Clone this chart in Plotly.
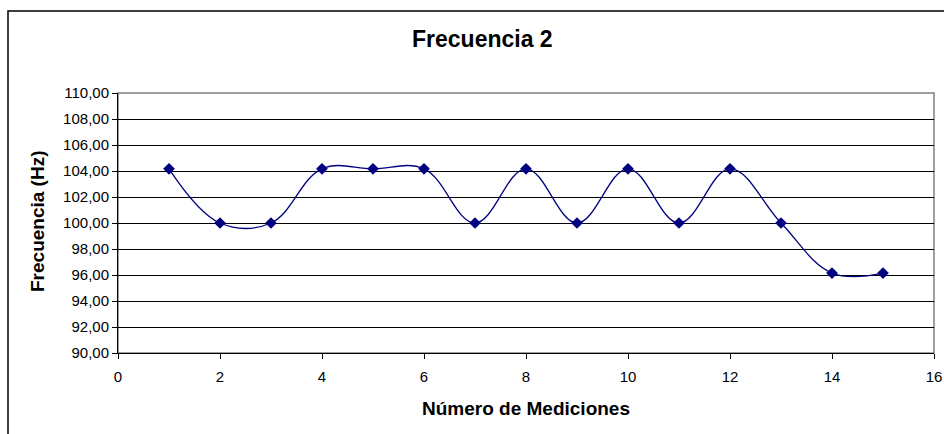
import plotly.graph_objects as go

mediciones = [1, 2, 3, 4, 5, 6, 7, 8, 9, 10, 11, 12, 13, 14, 15]
frecuencia = [104.17, 100.00, 100.00, 104.17, 104.17, 104.17, 100.00, 104.17,
              100.00, 104.17, 100.00, 104.17, 100.00, 96.15, 96.15]
y_ticks = [90, 92, 94, 96, 98, 100, 102, 104, 106, 108, 110]
x_ticks = [0, 2, 4, 6, 8, 10, 12, 14, 16]

FONT = "Liberation Sans, Arial, sans-serif"
L, R, T, B = 118, 10, 93, 81
W, H = 944, 434
pw, ph = W - L - R, H - T - B

fig = go.Figure()
fig.add_trace(go.Scatter(
    x=mediciones, y=frecuencia, mode="lines+markers",
    line=dict(color="#000080", width=1.3, shape="spline", smoothing=1.1),
    marker=dict(symbol="diamond", size=9, color="#000080"),
    showlegend=False,
))

def px_x(p):
    return (p - L) / pw

def px_y(p):
    return (H - B - p) / ph

fig.update_layout(
    width=W, height=H,
    margin=dict(l=L, r=R, t=T, b=B, autoexpand=False),
    paper_bgcolor="white", plot_bgcolor="white",
    separators=",.",
    font=dict(family=FONT, size=15, color="black"),
    xaxis=dict(range=[0, 16], tickvals=x_ticks, showgrid=False,
               showline=True, linecolor="black", linewidth=1,
               ticks="outside", ticklen=5, tickcolor="black",
               tickfont=dict(size=15), zeroline=False,
               ticklabelstandoff=5, automargin=False),
    yaxis=dict(range=[90, 110], tickvals=y_ticks, tickformat=".2f",
               showgrid=True, gridcolor="black", gridwidth=1,
               showline=True, linecolor="black", linewidth=1,
               ticks="outside", ticklen=5, tickcolor="black",
               tickfont=dict(size=15), zeroline=False, automargin=False),
    annotations=[
        dict(text="<b>Frecuencia 2</b>", xref="paper", yref="paper",
             x=px_x(482), y=px_y(39), xanchor="center", yanchor="middle",
             showarrow=False, font=dict(size=23, family=FONT)),
        dict(text="<b>Número de Mediciones</b>", xref="paper", yref="paper",
             x=px_x(526), y=px_y(408), xanchor="center", yanchor="middle",
             showarrow=False, font=dict(size=19, family=FONT)),
        dict(text="<b>Frecuencia (Hz)</b>", xref="paper", yref="paper",
             x=px_x(37), y=px_y(222), xanchor="center", yanchor="middle",
             textangle=-90, showarrow=False, font=dict(size=19, family=FONT)),
    ],
    shapes=[
        dict(type="rect", xref="paper", yref="paper",
             x0=0, x1=1, y0=0, y1=1,
             line=dict(color="#808080", width=1.5), layer="below"),
        dict(type="rect", xref="paper", yref="paper",
             x0=px_x(8), x1=px_x(960), y0=px_y(450), y1=px_y(11),
             line=dict(color="black", width=1.5), layer="below"),
    ],
)

fig.write_html(
    "out.html",
    config={"displayModeBar": False},
    post_script="document.body.style.margin='0';document.body.style.overflow='hidden';",
)
